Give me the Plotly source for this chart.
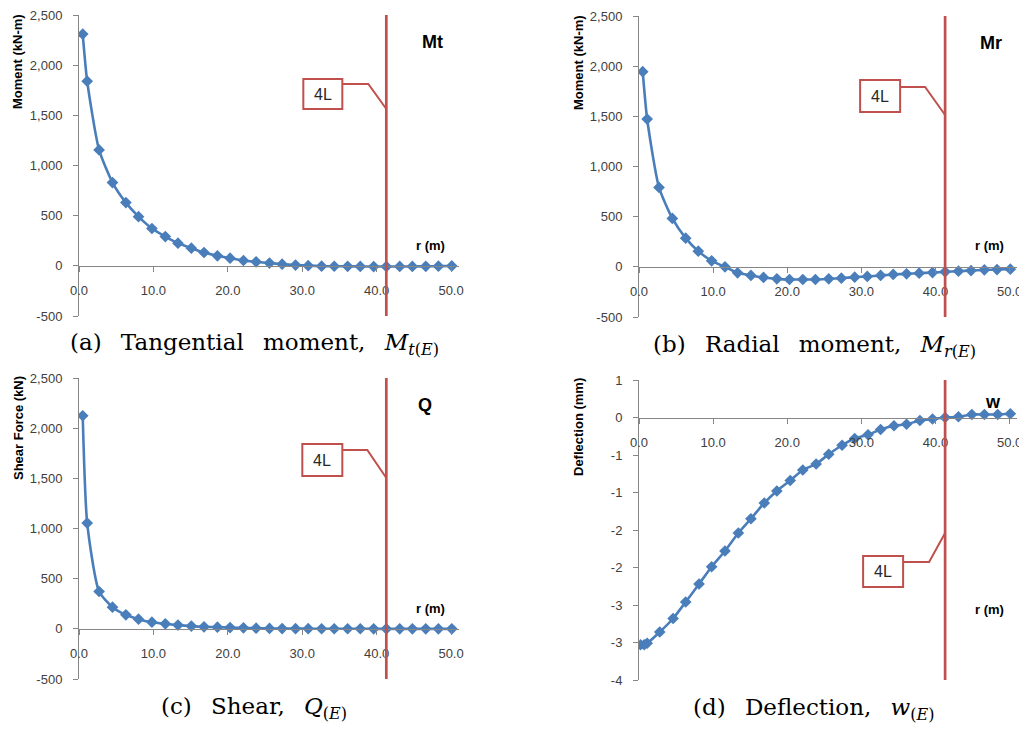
import plotly.graph_objects as go

# ---------------- data ----------------
R = [0.5, 1.1, 2.7, 4.5, 6.3, 8.0, 9.8, 11.6, 13.3, 15.1, 16.8, 18.6, 20.3, 22.1, 23.8,
     25.6, 27.3, 29.1, 30.8, 32.6, 34.3, 36.1, 37.8, 39.6, 41.3, 43.1, 44.8, 46.6, 48.3, 50.1]
MT = [2310, 1840, 1155, 830, 630, 490, 372, 292, 226, 176, 133, 100, 76, 53, 40,
      27, 17, 8, 2, -3, -4, -5, -6, -7, -7, -6, -6, -5, -3, -1]
MR = [1945, 1473, 791, 482, 286, 156, 60, 0, -60, -86, -106, -120, -126, -126, -126,
      -120, -113, -103, -96, -86, -76, -70, -63, -57, -50, -43, -37, -30, -27, -23]
Q = [2124, 1054, 372, 216, 140, 96, 66, 50, 37, 27, 20, 17, 13, 10, 7,
     4, 3, 2, 2, 1, 1, 1, 1, 0, 0, 0, 0, 0, 0, 0]
R_W = [0.2, 0.7, 1.1, 2.8, 4.6, 6.3, 8.1, 9.8, 11.6, 13.4, 15.1, 16.9, 18.6, 20.4, 22.1,
       23.9, 25.6, 27.4, 29.1, 30.9, 32.6, 34.4, 36.1, 37.9, 39.6, 41.3, 43.1, 44.9, 46.6, 48.4, 50.1]
W = [-3.03, -3.03, -3.01, -2.86, -2.68, -2.46, -2.22, -1.99, -1.78, -1.54, -1.35, -1.14, -0.98,
     -0.84, -0.70, -0.62, -0.49, -0.37, -0.28, -0.23, -0.16, -0.11, -0.09, -0.04, -0.02,
     0.0, 0.01, 0.04, 0.04, 0.04, 0.05]
R_4L = 41.3

X_TICKS = [0, 10, 20, 30, 40, 50]
X_TICKTEXT = ["0.0", "10.0", "20.0", "30.0", "40.0", "50.0"]
F_TICKS = [-500, 0, 500, 1000, 1500, 2000, 2500]
F_TICKTEXT = ["-500", "0", "500", "1,000", "1,500", "2,000", "2,500"]
W_TICKS = [-3.5, -3.0, -2.5, -2.0, -1.5, -1.0, -0.5, 0.0, 0.5]
W_TICKTEXT = ["-4", "-3", "-3", "-2", "-2", "-1", "-1", "0", "1"]

# ---------------- layout helpers ----------------
# the page places the figure 8px from the top-left corner (default body margin)
OFF = 8
FW, FH = 1027 - OFF, 730 - OFF
BLUE = "#4a7ebb"
RED = "#c0504d"
GREY = "#868686"
TICKCOL = "#404040"
SANS = "Liberation Sans"
SERIF = "DejaVu Serif"
SP = "&#160;&#160;&#8201;"


def fx(px):
    return (px - OFF) / FW


def fy(py):
    return 1 - (py - OFF) / FH


panels = [
    dict(x0=79, x1=458.5, yt=15, yb=316, ymin=-500, ymax=2500, tv=F_TICKS, tt=F_TICKTEXT,
         ytitle="Moment (kN-m)", sym="Mt", symxy=(432, 42), rmxy=(430, 246),
         cap="(a)" + SP + "Tangential" + SP + "moment," + SP + "<i>M</i><sub><i>t</i>(<i>E</i>)</sub>",
         capxy=(254, 344), ytxy=(18, 62), xs=R, ys=MT,
         box=(-83, -44, 79, 109), lead=(84, -18, 109)),
    dict(x0=639, x1=1017, yt=16, yb=317, ymin=-500, ymax=2500, tv=F_TICKS, tt=F_TICKTEXT,
         ytitle="Moment (kN-m)", sym="Mr", symxy=(991, 43), rmxy=(989, 246),
         cap="(b)" + SP + "Radial" + SP + "moment," + SP + "<i>M</i><sub><i>r</i>(<i>E</i>)</sub>",
         capxy=(814, 346), ytxy=(578, 63), xs=R, ys=MR,
         box=(-85, -45, 80, 112), lead=(87, -20, 115)),
    dict(x0=79, x1=458.5, yt=378, yb=679, ymin=-500, ymax=2500, tv=F_TICKS, tt=F_TICKTEXT,
         ytitle="Shear Force (kN)", sym="Q", symxy=(425, 405), rmxy=(430, 608),
         cap="(c)" + SP + "Shear," + SP + "<i>Q</i><sub>(<i>E</i>)</sub>",
         capxy=(254, 708), ytxy=(18, 428), xs=R, ys=Q,
         box=(-84, -44, 444, 476), lead=(450, -19, 478)),
    dict(x0=639, x1=1017, yt=380, yb=680, ymin=-3.5, ymax=0.5, tv=W_TICKS, tt=W_TICKTEXT,
         ytitle="Deflection (mm)", sym="w", symxy=(993, 402), rmxy=(989, 609),
         cap="(d)" + SP + "Deflection," + SP + "<i>w</i><sub>(<i>E</i>)</sub>",
         capxy=(814, 709), ytxy=(578, 427), xs=R_W, ys=W,
         box=(-82, -42, 556, 587), lead=(562, -16, 533)),
]

XMAX = 51
fig = go.Figure()
shapes = []
annotations = []
layout = {}


def paper_text(x, y, text, size, family=SANS, angle=0, weight="normal"):
    return dict(xref="paper", yref="paper", x=fx(x), y=fy(y), text=text,
                showarrow=False, xanchor="center", yanchor="middle", textangle=angle,
                font=dict(family=family, size=size, color="#000000", weight=weight))


for i, p in enumerate(panels):
    n = "" if i == 0 else str(i + 1)
    xa, ya = "x" + n, "y" + n
    xdom = [fx(p["x0"]), fx(p["x1"])]
    ydom = [fy(p["yb"]), fy(p["yt"])]
    yspan = p["ymax"] - p["ymin"]
    zero_frac = ydom[0] + (0 - p["ymin"]) / yspan * (ydom[1] - ydom[0])
    xscale = (p["x1"] - p["x0"]) / XMAX
    red_px = p["x0"] + R_4L * xscale

    def py2y(py, p=p):
        return p["ymax"] - (py - p["yt"]) / (p["yb"] - p["yt"]) * (p["ymax"] - p["ymin"])

    def px2x(px, p=p, s=xscale):
        return (px - p["x0"]) / s

    fig.add_trace(go.Scatter(
        x=p["xs"], y=p["ys"], xaxis=xa, yaxis=ya, mode="lines+markers",
        line=dict(color=BLUE, width=2.6, shape="spline", smoothing=0.6),
        marker=dict(symbol="diamond", size=9, color=BLUE),
        showlegend=False, hoverinfo="skip"))

    common = dict(ticks="outside", ticklen=5, tickcolor=GREY, showline=True,
                  linecolor=GREY, linewidth=1, showgrid=False, zeroline=False,
                  ticklabelstandoff=8, automargin=False, fixedrange=True,
                  ticklabeloverflow="allow",
                  tickfont=dict(family=SANS, size=13, color=TICKCOL))
    layout["xaxis" + n] = dict(domain=xdom, range=[0, XMAX], anchor="free",
                               position=zero_frac, tickvals=X_TICKS,
                               ticktext=X_TICKTEXT, **common)
    layout["yaxis" + n] = dict(domain=ydom, range=[p["ymin"], p["ymax"]], anchor=xa,
                               tickvals=p["tv"], ticktext=p["tt"], **common)

    # 4L red vertical line
    shapes.append(dict(type="line", xref=xa, yref=ya, x0=R_4L, x1=R_4L,
                       y0=p["ymin"], y1=p["ymax"], line=dict(color=RED, width=2.7)))
    # callout box and leader
    bl, br, bt, bb = p["box"]
    shapes.append(dict(type="rect", xref=xa, yref=ya,
                       x0=px2x(red_px + bl), x1=px2x(red_px + br),
                       y0=py2y(bb), y1=py2y(bt),
                       fillcolor="white", line=dict(color=RED, width=2)))
    ly, ex, ey = p["lead"]
    path = "M {},{} L {},{} L {},{}".format(
        px2x(red_px + br), py2y(ly), px2x(red_px + ex), py2y(ly), R_4L, py2y(ey))
    shapes.append(dict(type="path", xref=xa, yref=ya, path=path,
                       line=dict(color=RED, width=2)))
    annotations.append(dict(xref=xa, yref=ya, x=px2x(red_px + (bl + br) / 2),
                            y=py2y((bt + bb) / 2), text="4L", showarrow=False,
                            xanchor="center", yanchor="middle",
                            font=dict(family=SANS, size=16, color="#262626")))

    annotations.append(paper_text(p["symxy"][0], p["symxy"][1], p["sym"], 18, weight="bold"))
    annotations.append(paper_text(p["rmxy"][0], p["rmxy"][1], "r (m)", 13, weight="bold"))
    annotations.append(paper_text(p["ytxy"][0], p["ytxy"][1], p["ytitle"], 13,
                                  angle=-90, weight="bold"))
    annotations.append(paper_text(p["capxy"][0], p["capxy"][1], p["cap"], 23, family=SERIF))

fig.update_layout(
    width=FW, height=FH, margin=dict(l=0, r=0, t=0, b=0, pad=0),
    paper_bgcolor="white", plot_bgcolor="white",
    shapes=shapes, annotations=annotations, **layout)

fig.write_html("out.html")
